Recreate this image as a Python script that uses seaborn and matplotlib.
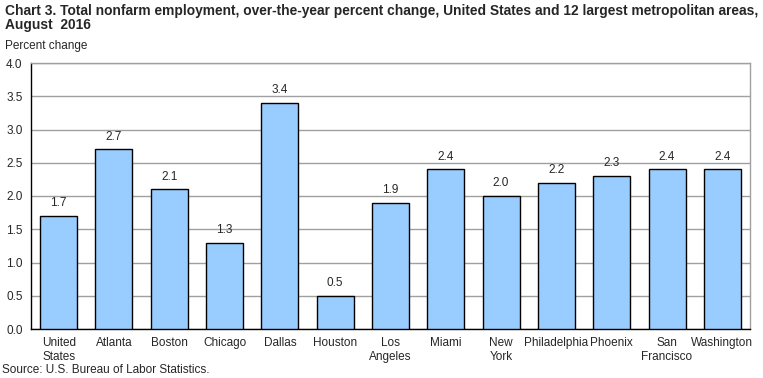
import matplotlib
matplotlib.use("Agg")
import matplotlib.pyplot as plt
import seaborn as sns
import pandas as pd

areas = ["United\nStates", "Atlanta", "Boston", "Chicago", "Dallas", "Houston",
         "Los\nAngeles", "Miami", "New\nYork", "Philadelphia", "Phoenix",
         "San\nFrancisco", "Washington"]
pct_change = [1.7, 2.7, 2.1, 1.3, 3.4, 0.5, 1.9, 2.4, 2.0, 2.2, 2.3, 2.4, 2.4]
yticks = [0.0, 0.5, 1.0, 1.5, 2.0, 2.5, 3.0, 3.5, 4.0]

df = pd.DataFrame({"area": areas, "value": pct_change})

sns.set_style("white")
plt.rcParams["font.family"] = ["Liberation Sans", "DejaVu Sans"]

fig = plt.figure(figsize=(7.63, 3.78), dpi=100)
ax = fig.add_axes([31 / 763, 49 / 378, (750 - 31) / 763, (329 - 63) / 378])

sns.barplot(data=df, x="area", y="value", color="#99CCFF", saturation=1,
            width=0.67, edgecolor="black", linewidth=1.0, ax=ax, zorder=3)

for p, v in zip(ax.patches, pct_change):
    ax.text(p.get_x() + p.get_width() / 2, v + 0.1, f"{v:.1f}",
            ha="center", va="bottom", fontsize=8.5)

ax.set_ylim(0, 4.0)
ax.set_xlim(-0.5, len(areas) - 0.5)
ax.set_yticks(yticks)
ax.set_yticklabels([f"{y:.1f}" for y in yticks], fontsize=8.5)
ax.tick_params(axis="x", labelsize=8.5, length=0, pad=6)
ax.tick_params(axis="y", length=0, pad=6)
ax.yaxis.grid(True, color="#A0A0A0", linewidth=1.0, zorder=0)
ax.set_axisbelow(True)
ax.set_xlabel("")
ax.set_ylabel("")

ax.spines["left"].set_color("black")
ax.spines["bottom"].set_color("black")
ax.spines["top"].set_color("#A0A0A0")
ax.spines["right"].set_color("#A0A0A0")
for s in ax.spines.values():
    s.set_linewidth(1.0)

fig.text(5 / 763, 1 - 4 / 378,
         "Chart 3. Total nonfarm employment, over-the-year percent change, United States and 12 largest metropolitan areas,\nAugust  2016",
         ha="left", va="top", fontsize=9.9, fontweight="bold", linespacing=1.0)
fig.text(5 / 763, 1 - 40 / 378, "Percent change", ha="left", va="top", fontsize=8.5)
fig.text(2 / 763, 1 - 364 / 378, "Source: U.S. Bureau of Labor Statistics.",
         ha="left", va="top", fontsize=8.5)

fig.savefig("out.png", dpi=100)
